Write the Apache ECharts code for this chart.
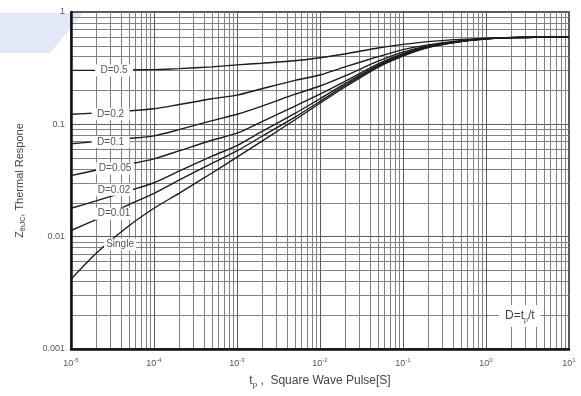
<!DOCTYPE html>
<html>
<head>
<meta charset="utf-8">
<script src="https://cdn.jsdelivr.net/npm/echarts@6/dist/echarts.min.js"></script>
<style>
  html, body { margin: 0; padding: 0; background: #fff; }
  #chart { width: 581px; height: 396px; }
</style>
</head>
<body>
<div id="chart"></div>
<script>
// pulse width tp [s]
const pulseTimes = [1e-5, 2e-5, 5e-5, 1e-4, 2e-4, 5e-4, 1e-3, 2e-3, 5e-3, 1e-2, 2e-2, 5e-2, 0.1, 0.2, 0.5, 1, 2, 5, 10];

// ZthJC, one array per duty cycle
const zD05 = [0.302, 0.302, 0.305, 0.307, 0.313, 0.325, 0.338, 0.350, 0.368, 0.392, 0.423, 0.478, 0.515, 0.545, 0.570, 0.583, 0.593, 0.598, 0.603];
const zD02 = [0.123, 0.126, 0.132, 0.1375, 0.150, 0.169, 0.182, 0.2075, 0.246, 0.275, 0.325, 0.400, 0.462, 0.510, 0.556, 0.580, 0.592, 0.598, 0.603];
const zD01 = [0.0671, 0.0702, 0.0748, 0.0790, 0.0897, 0.1078, 0.123, 0.1454, 0.1855, 0.2195, 0.270, 0.365, 0.440, 0.500, 0.553, 0.578, 0.591, 0.598, 0.603];
const zD005 = [0.0349, 0.0390, 0.0442, 0.0493, 0.0580, 0.0721, 0.0834, 0.1058, 0.1454, 0.1855, 0.241, 0.345, 0.425, 0.493, 0.550, 0.577, 0.591, 0.598, 0.603];
const zD002 = [0.0179, 0.0208, 0.0257, 0.0302, 0.0383, 0.0521, 0.0647, 0.0865, 0.1252, 0.169, 0.230, 0.335, 0.415, 0.489, 0.548, 0.576, 0.591, 0.598, 0.603];
const zD001 = [0.01135, 0.0142, 0.0193, 0.0243, 0.0319, 0.0450, 0.0580, 0.0783, 0.1161, 0.160, 0.222, 0.330, 0.410, 0.486, 0.547, 0.576, 0.591, 0.598, 0.603];
const zSingle = [0.00418, 0.00709, 0.0125, 0.0179, 0.0243, 0.0369, 0.0511, 0.0708, 0.1098, 0.154, 0.215, 0.322, 0.405, 0.482, 0.545, 0.575, 0.591, 0.598, 0.603];

const curveNames = ['D=0.5', 'D=0.2', 'D=0.1', 'D=0.05', 'D=0.02', 'D=0.01', 'Single'];
const curveValues = [zD05, zD02, zD01, zD005, zD002, zD001, zSingle];

// where each curve label sits on the chart
const labelTimes = [3.3e-5, 3.0e-5, 3.0e-5, 3.4e-5, 3.3e-5, 3.3e-5, 3.9e-5];
const labelValues = [0.302, 0.123, 0.0696, 0.0404, 0.0261, 0.0160, 0.00853];

const chart = echarts.init(document.getElementById('chart'));

const font = 'Liberation Sans, Arial, sans-serif';

const series = curveNames.map((name, i) => ({
  name,
  type: 'line',
  smooth: 0.25,
  symbol: 'none',
  z: 3,
  lineStyle: { color: '#1c1c1c', width: 1.4 },
  data: pulseTimes.map((t, k) => [t, curveValues[i][k]]),
  markPoint: {
    silent: true,
    symbol: 'rect',
    symbolSize: [name === 'Single' ? 32 : 38, 12],
    itemStyle: { color: '#fff' },
    label: {
      show: true,
      formatter: name,
      color: '#555',
      fontSize: 10,
      fontFamily: font,
    },
    data: [{ coord: [labelTimes[i], labelValues[i]] }],
  },
}));

const expLabel = (v) => {
  const e = Math.round(Math.log10(v));
  return '{b|10}{e|' + e + '}';
};
const decLabel = (v) => {
  const e = Math.round(Math.log10(v));
  return e === 0 ? '1' : Math.pow(10, e).toFixed(-e);
};

chart.setOption({
  animation: false,
  textStyle: { fontFamily: font },
  grid: {
    left: 71, right: 12, top: 12, bottom: 47,
    show: true, borderColor: '#222', borderWidth: 1.5,
  },
  xAxis: {
    type: 'log',
    logBase: 10,
    min: 1e-5,
    max: 10,
    splitNumber: 6,
    name: '{a|t}{s|p}{a| ,  Square Wave Pulse[S]}',
    nameLocation: 'middle',
    nameGap: 24,
    nameTextStyle: {
      rich: {
        a: { fontSize: 12, color: '#444', fontFamily: font, lineHeight: 16 },
        s: { fontSize: 8, color: '#444', fontFamily: font, verticalAlign: 'bottom' },
      },
    },
    axisLine: { lineStyle: { color: '#111', width: 2.5 } },
    axisTick: { show: false },
    axisLabel: {
      margin: 8,
      formatter: expLabel,
      rich: {
        b: { fontSize: 9, color: '#555', lineHeight: 14 },
        e: { fontSize: 6, color: '#555', verticalAlign: 'top' },
      },
    },
    splitLine: { show: true, lineStyle: { color: '#5c5c5c', width: 1 } },
    minorTick: { show: false, splitNumber: 9 },
    minorSplitLine: { show: true, lineStyle: { color: '#828282', width: 1 } },
  },
  yAxis: {
    type: 'log',
    logBase: 10,
    min: 0.001,
    max: 1,
    splitNumber: 3,
    name: '{a|Z}{s|thJC}{a|, Thermal Respone}',
    nameLocation: 'middle',
    nameRotate: 90,
    nameGap: 44,
    nameTextStyle: {
      rich: {
        a: { fontSize: 11, color: '#444', fontFamily: font, lineHeight: 15 },
        s: { fontSize: 7, color: '#444', fontFamily: font, verticalAlign: 'bottom' },
      },
    },
    axisLine: { lineStyle: { color: '#111', width: 2.5 } },
    axisTick: { show: false },
    axisLabel: {
      margin: 6,
      fontSize: 9,
      color: '#555',
      formatter: decLabel,
    },
    splitLine: { show: true, lineStyle: { color: '#5c5c5c', width: 1 } },
    minorTick: { show: false, splitNumber: 9 },
    minorSplitLine: { show: true, lineStyle: { color: '#828282', width: 1 } },
  },
  graphic: [
    {
      type: 'polygon',
      z: -1,
      shape: { points: [[0, 13], [83, 13], [50, 53], [0, 53]] },
      style: { fill: '#e3e8f6' },
    },
    {
      type: 'text',
      z: 10,
      left: 499,
      top: 305,
      style: {
        text: '{a|D=t}{s|p}{a|/t}',
        backgroundColor: '#fff',
        padding: [3, 6, 3, 6],
        rich: {
          a: { fontSize: 12, fill: '#444', fontFamily: font, lineHeight: 16 },
          s: { fontSize: 7, fill: '#444', fontFamily: font, verticalAlign: 'bottom' },
        },
      },
    },
  ],
  series,
});
</script>
</body>
</html>
